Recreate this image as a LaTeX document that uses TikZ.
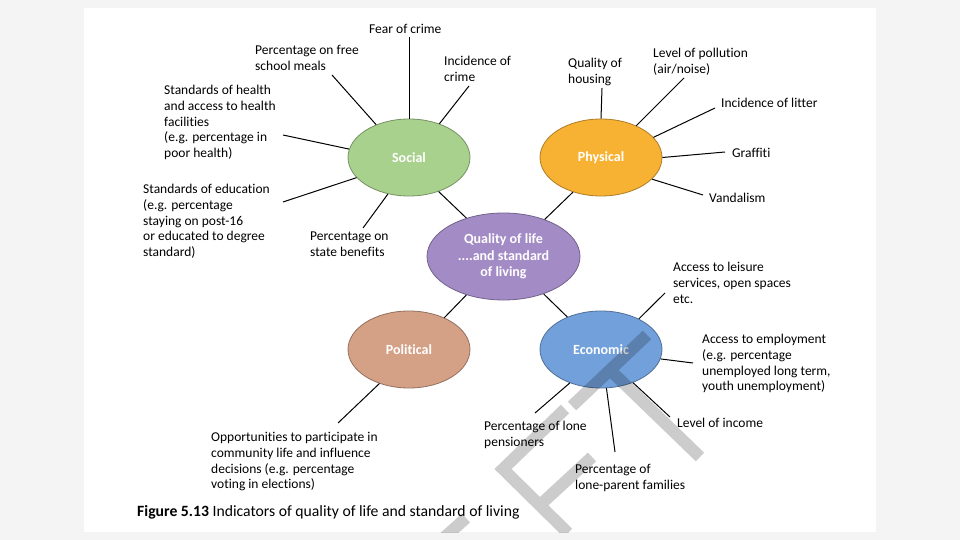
\documentclass[tikz,border=0pt]{standalone}
\usepackage{fontspec}
\setmainfont[Ligatures=NoCommon]{Carlito}
\usetikzlibrary{shapes.geometric}
\definecolor{socgreen}{HTML}{A9D18E}
\definecolor{phyorange}{HTML}{F8B233}
\definecolor{qolpurple}{HTML}{A38CC6}
\definecolor{polbrown}{HTML}{D4A086}
\definecolor{ecoblue}{HTML}{72A0DA}
\definecolor{pagegrey}{HTML}{F4F4F4}
\tikzset{
    topic/.style={
        ellipse,
        draw=#1!70!black,
        fill=#1,
        line width=0.8pt,
        minimum width=122pt,
        minimum height=77pt,
        inner sep=0pt,
        text=white,
        font=\fontsize{14}{16}\selectfont\bfseries
    },
    item/.style={
        anchor=north west,
        align=left,
        inner sep=0pt,
        yshift=-2pt,
        font=\fontsize{13.5}{15.8}\selectfont
    },
    link/.style={
        line width=1pt
    },
    wmark/.style={
        line width=12pt,
        black,
        opacity=0.2
    }
}
\begin{document}
\begin{tikzpicture}[x=1pt,y=-1pt]

  % page
  \fill[pagegrey] (0,0) rectangle (960,540);
  \fill[white] (84,8) rectangle (876,532);

  % the five ellipses
  \node[topic=socgreen] (soc) at (409,157.5) {Social};
  \node[topic=phyorange] (phy) at (601,157.5) {Physical};
  \node[topic=polbrown] (pol) at (409,349.5) {Political};
  \node[topic=ecoblue] (eco) at (601,349.5) {Economic};
  \node[topic=qolpurple,minimum width=153pt,minimum height=87pt,align=center,
        font=\fontsize{14}{16.3}\selectfont\bfseries] (qol) at (503.5,256.5)
        {Quality of life\\....and standard\\of living};

  % social
  \node[item] (fear) at (369,22) {Fear of crime};
  \node[item] (meals) at (255,43) {Percentage on free\\school meals};
  \node[item] (crime) at (444,54) {Incidence of\\crime};
  \node[item] (health) at (164,83) {Standards of health\\and access to health\\facilities\\(e.g. percentage in\\poor health)};
  \node[item] (educ) at (143,182) {Standards of education\\(e.g. percentage\\staying on post-16\\or educated to degree\\standard)};
  \node[item] (benef) at (310,230) {Percentage on\\state benefits};

  % physical
  \node[item] (housing) at (568,56) {Quality of\\housing};
  \node[item] (pollut) at (653,46) {Level of pollution\\(air/noise)};
  \node[item] (litter) at (721,96) {Incidence of litter};
  \node[item] (graff) at (732,146) {Graffiti};
  \node[item] (vandal) at (709,191) {Vandalism};

  % economic
  \node[item] (leisure) at (673,260) {Access to leisure\\services, open spaces\\etc.};
  \node[item] (employ) at (702,332) {Access to employment\\(e.g. percentage\\unemployed long term,\\youth unemployment)};
  \node[item] (income) at (677,416) {Level of income};
  \node[item] (pension) at (484,419) {Percentage of lone\\pensioners};
  \node[item] (parent) at (575,462) {Percentage of\\lone-parent families};

  % political
  \node[item] (opport) at (211,430) {Opportunities to participate in\\community life and influence\\decisions (e.g. percentage\\voting in elections)};

  \node[anchor=north west,inner sep=0pt,font=\fontsize{15.7}{18}\selectfont] (caption) at (137,505)
        {\textbf{Figure 5.13} Indicators of quality of life and standard of living};

  % free ends of the spokes
  \coordinate (fear-end) at (409,37);
  \coordinate (meals-end) at (332,75);
  \coordinate (crime-end) at (469,86);
  \coordinate (health-end) at (283,135);
  \coordinate (educ-end) at (283,202);
  \coordinate (benef-end) at (363,228);
  \coordinate (housing-end) at (602,88);
  \coordinate (pollut-end) at (684,78);
  \coordinate (litter-end) at (715,108);
  \coordinate (graff-end) at (725,152);
  \coordinate (vandal-end) at (703,195);
  \coordinate (leisure-end) at (665,293);
  \coordinate (employ-end) at (693,363);
  \coordinate (income-end) at (670,417);
  \coordinate (pension-end) at (535,413);
  \coordinate (parent-end) at (615,452);
  \coordinate (opport-end) at (338,423);

  % spokes
  \draw[link] (soc.90) -- (fear-end);
  \draw[link] (soc.135) -- (meals-end);
  \draw[link] (soc.48) -- (crime-end);
  \draw[link] (soc.172) -- (health-end);
  \draw[link] (soc.201) -- (educ-end);
  \draw[link] (soc.240) -- (benef-end);
  \draw[link] (phy.90) -- (housing-end);
  \draw[link] (phy.42) -- (pollut-end);
  \draw[link] (phy.21) -- (litter-end);
  \draw[link] (phy.0) -- (graff-end);
  \draw[link] (phy.337) -- (vandal-end);
  \draw[link] (eco.39) -- (leisure-end);
  \draw[link] (eco.351) -- (employ-end);
  \draw[link] (eco.314) -- (income-end);
  \draw[link] (eco.227) -- (pension-end);
  \draw[link] (eco.278) -- (parent-end);
  \draw[link] (pol.229) -- (opport-end);

  % hub
  \draw[link] (soc.311) -- (qol.134);
  \draw[link] (phy.231) -- (qol.42);
  \draw[link] (pol.42) -- (qol.226);
  \draw[link] (eco.136) -- (qol.317);

  % watermark
  \begin{scope}
    \clip (84,8) rectangle (876,532);
    \draw[wmark] (572,406) -- (647,335) (610,370) -- (700,457)
                 (568,533) -- (503,469) -- (565,409) (540,505) -- (592,457)
                 (436,545) -- (466,518);
  \end{scope}

\end{tikzpicture}
\end{document}
